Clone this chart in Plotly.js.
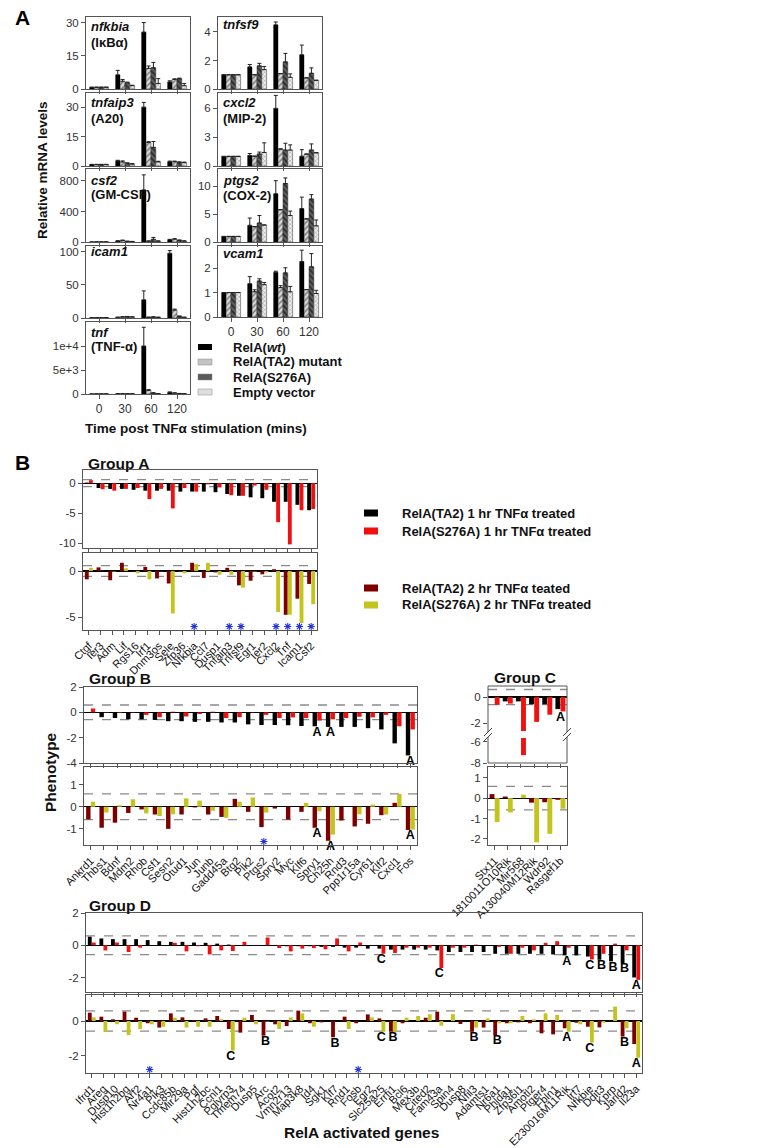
<!DOCTYPE html>
<html><head><meta charset="utf-8">
<script src="https://cdn.plot.ly/plotly-3.0.1.min.js"></script>
<style>html,body{margin:0;padding:0;background:#fff}</style>
</head><body><div id="chart" style="width:770px;height:1148px"></div>
<script>
// ================= DATA: Panel A =================
const timePoints = ['0','30','60','120'];
const seriesA = ['RelA(<i>wt</i>)','RelA(TA2) mutant','RelA(S276A)','Empty vector'];
// rows = series [wt, TA2, S276A, EV]; columns = time points
const nfkbiaVals = [[0.8,6.4,25.7,3.2],[0.8,3.5,9.3,4.3],[0.8,2.8,9.6,4.6],[0.8,1.5,2.5,1.5]];
const nfkbiaErr  = [[0,2.0,4.3,0.5],[0,0.8,1.1,0.3],[0,0.3,2.4,0.3],[0,0.2,2.2,1.0]];
const tnfaip3Vals = [[0.8,2.6,30,2.2],[0.8,2.1,12,2.2],[0.8,1.4,9.5,1.9],[0.8,1.0,2.1,1.7]];
const tnfaip3Err  = [[0,0.3,2.4,0.3],[0,0.5,0.4,0.3],[0,0.2,3.0,0.2],[0,0.2,0.3,0.3]];
const csf2Vals = [[1,13,683,30],[1,20,10,38],[1,8,35,22],[1,6,10,12]];
const csf2Err  = [[0,4,197,5],[0,5,5,5],[0,3,25,4],[0,2,5,3]];
const icam1Vals = [[0.5,1,27.5,98],[0.5,1.5,1,12],[0.5,2,1.5,2.5],[0.5,1.5,1,1]];
const icam1Err  = [[0,0.3,13.5,4],[0,0.5,0.3,1.5],[0,0.4,0.3,0.5],[0,0.3,0.2,0.2]];
const tnfVals = [[20,50,10000,350],[20,40,760,200],[20,40,200,100],[20,30,70,60]];
const tnfErr  = [[0,20,3900,80],[0,10,150,40],[0,10,50,20],[0,0,0,0]];
const tnfsf9Vals = [[1,1.55,4.5,2.4],[1,1.0,1.08,0.78],[1,1.62,1.9,1.1],[1,1.36,0.82,0.61]];
const tnfsf9Err  = [[0,0.17,0.2,0.68],[0,0,0,0],[0,0.18,0.6,0.38],[0,0.22,0.24,0]];
const cxcl2Vals = [[1,1.1,6.0,1.02],[1,1.02,1.77,1.24],[1,1.24,1.66,1.66],[1,1.41,1.66,1.38]];
const cxcl2Err  = [[0,0.2,1.35,0.68],[0,0,0,0],[0,0.21,0.71,0.64],[0,1.0,0.54,0]];
const ptgs2Vals = [[1,3.0,8.66,6.0],[1,2.75,5.8,4.15],[1,3.4,10.5,7.7],[1,3.05,4.75,2.9]];
const ptgs2Err  = [[0,1.3,2.34,2.05],[0,0,0,0],[0,1.35,1.0,0.8],[0,0,0.8,1.05]];
const vcam1Vals = [[1,1.36,1.83,2.27],[1,1.03,1.2,1.12],[1,1.47,1.8,2.05],[1,1.32,1.03,0.96]];
const vcam1Err  = [[0,0.29,0.04,0.46],[0,0.08,0.08,0],[0,0.09,0.21,0.54],[0,0.09,0.22,0.13]];

// ================= DATA: Panel B =================
const seriesB = ['RelA(TA2) 1 hr TNFα treated','RelA(S276A) 1 hr TNFα treated','RelA(TA2) 2 hr TNFα teated','RelA(S276A) 2 hr TNFα treated'];

const groupAGenes = ['Ctgf','Ier3','Adm','Lif','Rgs16','Irf1','Dnm3os','Sele','Zfp36','Nfkbia','Ccl7','Dusp1','Tnfaip3','Tnfsf9','Egr1','Ier2','Cxcl2','Tnf','Icam1','Csf2'];
const groupA_TA2_1h   = [0.1,-0.8,-0.95,-0.95,-1.1,-1.25,-1.25,-1.25,-1.4,-1.4,-1.4,-1.5,-1.8,-2.1,-2.35,-2.5,-3.1,-3.1,-3.6,-4.5];
const groupA_S276A_1h = [0.5,-1.0,-1.25,-0.95,-0.8,-2.65,-0.95,-4.2,-0.8,-1.4,-0.2,-0.7,-2.0,-2.1,-0.4,-1.1,-6.5,-10.2,-4.5,-4.3];
const groupA_TA2_2h   = [-0.9,0.4,-1.0,0.9,-0.05,0.45,-0.8,-1.35,-0.1,0.9,-0.75,-0.15,0.35,-1.55,-1.05,-0.35,0.2,-4.75,-3.0,-1.4];
const groupA_S276A_2h = [0.35,0.02,-0.05,0.3,-0.25,-0.9,-0.02,-4.6,-0.25,0.75,0.9,-0.4,-0.4,-1.8,-0.05,-0.15,-4.45,-4.75,-5.65,-3.6];
const groupAStars     = [0,0,0,0,0,0,0,0,0,1,0,0,1,1,0,0,1,1,1,1];

const groupBGenes = ['Ankrd1','Thbs1','Bdnf','Mdm2','Rhob','Csf1','Sesn2','Otud1','Jun','Junb','Gadd45a','Btg2','Plk2','Ptgs2','Spry2','Myc','Klf6','Spry1','Ch25h','Rnd3','Ppp1r15a','Cyr61','Klf2','Cxcl1','Fos'];
const groupB_TA2_1h   = [-0.02,-0.38,-0.45,-0.55,-0.55,-0.6,-0.7,-0.7,-0.75,-0.75,-0.8,-0.8,-0.95,-1.0,-1.0,-1.02,-1.08,-1.1,-1.15,-1.15,-1.15,-1.25,-1.35,-2.45,-3.4];
const groupB_S276A_1h = [0.3,-0.03,-0.05,-0.03,-0.2,-0.38,0.05,-0.33,-0.13,0.05,-0.45,-0.38,-0.02,-0.2,-0.45,-0.4,-0.45,-0.65,-0.55,-0.45,-0.35,-0.4,-0.2,-1.1,-1.35];
const groupB_TA2_2h   = [-0.57,-0.95,-0.72,-0.28,-0.12,-0.35,-1.0,-0.35,-0.03,-0.35,-0.46,0.36,-0.23,-0.92,-0.08,-0.58,-0.23,-0.95,-1.54,-0.62,-0.89,-0.77,-0.38,0.18,-1.05];
const groupB_S276A_2h = [0.23,-0.26,0.07,0.34,-0.3,-0.42,-0.34,0.38,0.28,-0.18,-0.5,0.23,0.42,-0.26,0.0,0.0,0.18,-0.2,-1.26,0.0,-0.34,0.1,-0.35,0.58,-1.03];
const groupBTopLetters = ['','','','','','','','','','','','','','','','','','A','A','','','','','','A'];
const groupBBotLetters = ['','','','','','','','','','','','','','','','','','A','A','','','','','','A'];
const groupBStars      = [0,0,0,0,0,0,0,0,0,0,0,0,0,1,0,0,0,0,0,0,0,0,0,0,0];

const groupCGenes = ['Stx11','1810011O10Rik','Mir568','A130040M12Rik','Wdr92','Rasgef1b'];
const groupC_TA2_1h   = [-0.02,-0.33,-0.33,-0.55,-0.55,-0.92];
const groupC_S276A_1h = [-0.6,-0.5,-7.25,-1.9,-1.35,-1.1];
const groupC_TA2_2h   = [0.2,0.08,0.0,-0.22,-0.2,-0.08];
const groupC_S276A_2h = [-1.17,-0.7,0.17,-2.17,-1.75,-0.52];
const groupCTopLetters = ['','','','','','A'];

const groupDGenes = ['Ifrd1','Areg','Dusp10','Hist1h2bg','Arf2','Nr4a1','Pik3','Ccdc85b','Mir29a','Pgf','Hist1h2bc','Ccnl1','Pglyrp3','Tmem74','Dusp5','Arc','Acot2','Vmn2r13','Map3k8','Id4','Sgk1','Klf7','Rnd1','Fosb','Egr2','Slc25a25','Errfi1','Bcl6','Mex3b','Cited2','Fam43a','Spin4','Dusp8','Nfil3','Adamts1','Nr6a1','Phlda1','Zfp36l1','Amotl2','Ptger4','Fbln1','E230016M11Rik','Irf7','Nfkbie','Ddit3','Kprp','Jarid2','Il23a'];
const groupD_TA2_1h   = [0.53,0.42,0.38,0.38,0.38,0.32,0.25,0.21,0.21,0.17,0.15,0.1,0.04,0.01,-0.02,-0.02,-0.03,-0.06,-0.06,-0.06,-0.1,-0.1,-0.15,-0.15,-0.21,-0.21,-0.27,-0.27,-0.27,-0.27,-0.32,-0.42,-0.42,-0.42,-0.42,-0.53,-0.53,-0.53,-0.53,-0.53,-0.57,-0.63,-0.63,-0.7,-0.9,-1.0,-1.1,-2.0];
const groupD_S276A_1h = [0.17,-0.32,0.17,-0.42,-0.15,0.0,0.0,0.15,-0.38,-0.06,-0.57,-0.32,-0.36,0.21,-0.02,0.48,-0.17,-0.38,-0.21,-0.17,-0.25,0.42,-0.38,0.17,0.0,-0.53,-0.48,-0.15,-0.15,-0.15,-1.41,-0.15,-0.15,0.04,0.0,-0.1,-0.53,-0.15,-0.32,0.15,0.25,-0.15,0.0,-0.88,-0.53,0.1,-0.32,-2.15];
const groupD_TA2_2h   = [0.48,0.25,0.1,0.54,0.19,-0.13,-0.38,0.44,0.21,0.06,0.15,0.29,-0.46,-0.67,0.35,-0.85,-0.19,-0.29,0.6,-0.13,-0.08,-0.94,0.25,-0.13,0.38,0.15,-0.62,-0.13,0.0,0.19,0.54,0.0,-0.17,-0.62,-0.38,-0.81,-0.13,-0.08,-0.13,-0.71,-0.77,-0.42,-0.1,-0.33,-0.37,-0.02,-0.9,-1.33];
const groupD_S276A_2h = [0.21,-0.62,-0.19,-0.81,-0.46,-0.19,-0.33,0.19,-0.38,-0.33,-0.33,0.1,-1.71,0.19,-0.19,-0.03,-0.46,0.21,0.44,-0.33,0.0,0.0,-0.46,0.0,0.21,-0.62,-0.62,0.19,0.29,0.38,-0.27,0.4,0.0,-0.38,0.15,-0.13,-0.13,0.29,0.1,0.44,0.35,-0.62,-0.19,-1.25,-0.1,0.83,-0.42,-2.12];
const groupDTopLetters = ['','','','','','','','','','','','','','','','','','','','','','','','','','C','','','','','C','','','','','','','','','','','A','','C','B','B','B','A'];
const groupDBotLetters = ['','','','','','','','','','','','','C','','','B','','','','','','B','','','','C','B','','','','','','','B','','B','','','','','','A','','C','','','B','A'];
const groupDStars      = [0,0,0,0,0,1,0,0,0,0,0,0,0,0,0,0,0,0,0,0,0,0,0,1,0,0,0,0,0,0,0,0,0,0,0,0,0,0,0,0,0,0,0,0,0,0,0,0];

// ================= LAYOUT HELPERS =================
const W = 770, H = 1148;
const FONT = 'Liberation Sans, Arial, sans-serif';
const px = x => x / W;
const py = y => 1 - y / H;
const layout = {
  width: W, height: H, margin: {l:0, r:0, t:0, b:0},
  paper_bgcolor: '#fff', plot_bgcolor: 'rgba(0,0,0,0)', showlegend: false,
  font: {family: FONT, color: '#222'}, annotations: [], shapes: [], hovermode: false
};
const data = [];
const axisBase = {
  showline: true, mirror: true, linecolor: '#555', linewidth: 1,
  ticks: 'outside', ticklen: 4, tickcolor: '#555', tickwidth: 1,
  tickfont: {family: FONT, size: 11.5, color: '#333'},
  showgrid: false, zeroline: false, fixedrange: true
};
let axN = 0;
function newAxes(box, xopt, yopt) {
  axN++;
  const s = axN === 1 ? '' : String(axN);
  const [l, t, r, b] = box;
  layout['xaxis' + s] = Object.assign({}, axisBase, {domain: [px(l), px(r)], anchor: 'y' + s}, xopt);
  layout['yaxis' + s] = Object.assign({}, axisBase, {domain: [py(b), py(t)], anchor: 'x' + s}, yopt);
  return {x: 'x' + s, y: 'y' + s};
}
function ann(text, x, y, opt) {
  layout.annotations.push(Object.assign({text, x: px(x), y: py(y), xref: 'paper', yref: 'paper',
    showarrow: false, xanchor: 'left', yanchor: 'middle', font: {family: FONT, size: 13, color: '#111'}}, opt || {}));
}
function line(x0, y0, x1, y1, opt) {
  layout.shapes.push(Object.assign({type: 'line', xref: 'paper', yref: 'paper', x0: px(x0), y0: py(y0), x1: px(x1), y1: py(y1),
    line: {color: '#555', width: 1}}, opt || {}));
}

// ================= PANEL A =================
const aColors = [
  {color: '#000'},
  {color: '#cfcfcf', pattern: {shape: '/', bgcolor: '#d8d8d8', fgcolor: '#777', size: 4, solidity: 0.35}},
  {color: '#555', pattern: {shape: '\\', bgcolor: '#5e5e5e', fgcolor: '#2a2a2a', size: 4, solidity: 0.4}},
  {color: '#e8e8e8', pattern: {shape: 'x', bgcolor: '#eeeeee', fgcolor: '#9a9a9a', size: 3, solidity: 0.3}}
];
const panelA = [
  {box:[86,17,190,89],  v:nfkbiaVals,  e:nfkbiaErr,  r:[0,32.5], tv:[0,15,30], tt:['0','15','30'], lab:['<b><i>nfkbia</i></b>','<b>(IκBα)</b>'], ly:[26,43], xl:false},
  {box:[86,93,190,166], v:tnfaip3Vals, e:tnfaip3Err, r:[0,37.2], tv:[0,15,30], tt:['0','15','30'], lab:['<b><i>tnfaip3</i></b>','<b>(A20)</b>'], ly:[103,119], xl:false},
  {box:[86,169,190,242],v:csf2Vals,    e:csf2Err,    r:[0,957],  tv:[0,400,800], tt:['0','400','800'], lab:['<b><i>csf2</i></b>','<b>(GM-CSF)</b>'], ly:[181,194], xl:false},
  {box:[86,246,190,318],v:icam1Vals,   e:icam1Err,   r:[0,109],  tv:[0,50,100], tt:['0','50','100'], lab:['<b><i>icam1</i></b>'], ly:[252], xl:false},
  {box:[86,322,190,394],v:tnfVals,     e:tnfErr,     r:[0,15000],tv:[0,5000,10000], tt:['0','5e+3','1e+4'], lab:['<b><i>tnf</i></b>','<b>(TNF-α)</b>'], ly:[332,346], xl:true},
  {box:[218,17,322,89], v:tnfsf9Vals,  e:tnfsf9Err,  r:[0,5.05], tv:[0,2,4], tt:['0','2','4'], lab:['<b><i>tnfsf9</i></b>'], ly:[24], xl:false},
  {box:[218,93,322,166],v:cxcl2Vals,   e:cxcl2Err,   r:[0,7.6],  tv:[0,3,6], tt:['0','3','6'], lab:['<b><i>cxcl2</i></b>','<b>(MIP-2)</b>'], ly:[103,118], xl:false},
  {box:[218,169,322,242],v:ptgs2Vals,  e:ptgs2Err,   r:[0,13.1], tv:[0,5,10], tt:['0','5','10'], lab:['<b><i>ptgs2</i></b>','<b>(COX-2)</b>'], ly:[181,195], xl:false},
  {box:[218,246,322,317],v:vcam1Vals,  e:vcam1Err,   r:[0,2.9],  tv:[0,1,2], tt:['0','1','2'], lab:['<b><i>vcam1</i></b>'], ly:[254], xl:true}
];
const bwA = 0.185;
panelA.forEach(p => {
  const ax = newAxes(p.box,
    {type:'category', categoryarray: timePoints, categoryorder:'array', range:[-0.5,3.5], showticklabels: p.xl,
     tickmode:'array', tickvals: timePoints, ticktext: timePoints, tickfont:{family:FONT, size:12, color:'#333'}},
    {range: p.r, tickvals: p.tv, ticktext: p.tt});
  for (let s = 0; s < 4; s++) {
    data.push({type:'bar', x: timePoints, y: p.v[s], xaxis: ax.x, yaxis: ax.y, width: bwA, offset: -2*bwA + s*bwA,
      marker: Object.assign({line:{color:'#333', width: s===0?0:0.5}}, aColors[s]), hoverinfo:'skip', name: seriesA[s],
      error_y: {type:'data', symmetric:false, array: p.e[s], arrayminus: p.e[s].map(()=>0), color:'#222', thickness:1, width:2}});
  }
  p.lab.forEach((t, i) => ann(t, p.box[0] + 3, p.ly[i], {font:{family:FONT, size:13, color:'#111'}}));
});
// Panel A legend (swatches + text)
const aLegFill = ['#000', '#c4c4c4', '#5a5a5a', '#dedede'];
[347, 362, 377, 392].forEach((y, i) => {
  layout.shapes.push({type:'rect', xref:'paper', yref:'paper', x0:px(198), x1:px(212), y0:py(y+3), y1:py(y-3),
    fillcolor: aLegFill[i], line:{color:'#888', width: i===0?0:0.5}});
  ann('<b>' + seriesA[i] + '</b>', 231, y, {font:{family:FONT, size:13, color:'#111'}});
});
ann('<b>Relative mRNA levels</b>', 42, 170, {textangle:-90, xanchor:'center', font:{family:FONT, size:13.5, color:'#111'}});
ann('<b>Time post TNFα stimulation (mins)</b>', 196, 428, {xanchor:'center', font:{family:FONT, size:13.5, color:'#111'}});
ann('<b>A</b>', 22, 17, {xanchor:'center', font:{family:FONT, size:21, color:'#000'}});
ann('<b>B</b>', 22, 462, {xanchor:'center', font:{family:FONT, size:21, color:'#000'}});

// ================= PANEL B =================
const C1 = '#000', C2 = '#f01010', C3 = '#7d0000', C4 = '#c3c51d';
function dashed(ax) {
  [0.58, -0.58].forEach(v => layout.shapes.push({type:'line', xref: ax.x + ' domain', yref: ax.y, x0:0, x1:1, y0:v, y1:v,
    line:{color:'#8a8a8a', width:1.3, dash:'dash'}, layer:'below'}));
}
function barPanel(box, genes, s1, s2, c1, c2, yr, tv, showLabels, w, extra) {
  const ax = newAxes(box,
    Object.assign({type:'category', categoryarray: genes, categoryorder:'array', range:[-0.5, genes.length-0.5],
      tickmode:'array', tickvals: genes, ticktext: genes,
      showticklabels: showLabels, tickangle: -45, tickfont:{family:FONT, size:11, color:'#111'}}, (extra||{}).x || {}),
    Object.assign({range: yr, tickvals: tv, ticktext: tv.map(String), zeroline: true, zerolinecolor:'#000', zerolinewidth:1.2,
      tickfont:{family:FONT, size:11.5, color:'#333'}}, (extra||{}).y || {}));
  data.push({type:'bar', x: genes, y: s1, xaxis: ax.x, yaxis: ax.y, width: w, offset: -w - 0.01, marker:{color: c1}, hoverinfo:'skip'});
  data.push({type:'bar', x: genes, y: s2, xaxis: ax.x, yaxis: ax.y, width: w, offset: 0.01, marker:{color: c2}, hoverinfo:'skip'});
  return ax;
}
function letters(ax, genes, s1, s2, labs) {
  const xs = [], ys = [], ts = [];
  labs.forEach((l, i) => { if (l) { xs.push(genes[i]); ys.push(Math.min(s1[i], s2[i], 0)); ts.push('<b>' + l + '</b>'); } });
  data.push({type:'scatter', mode:'text', x: xs, y: ys, text: ts, textposition:'bottom center',
    textfont:{family:FONT, size:12.5, color:'#000'}, xaxis: ax.x, yaxis: ax.y, cliponaxis:false, hoverinfo:'skip'});
}
function stars(ax, genes, flags, yr) {
  const xs = genes.filter((g, i) => flags[i]);
  const y0 = yr[0] + 0.045 * (yr[1] - yr[0]);
  data.push({type:'scatter', mode:'markers', x: xs, y: xs.map(() => y0), xaxis: ax.x, yaxis: ax.y, cliponaxis:false, hoverinfo:'skip',
    marker:{symbol:'asterisk-open', size:6, color:'#2233dd', line:{color:'#2233dd', width:1.1}}});
}

// Group A
const gaTopR = [-10.8, 2.2], gaBotR = [-6.4, 1.96];
const gaTop = barPanel([83,470,317,548], groupAGenes, groupA_TA2_1h, groupA_S276A_1h, C1, C2, gaTopR, [0,-5,-10], false, 0.33);
dashed(gaTop);
const gaBot = barPanel([83,553,317,630], groupAGenes, groupA_TA2_2h, groupA_S276A_2h, C3, C4, gaBotR, [0,-5], true, 0.33);
dashed(gaBot);
stars(gaBot, groupAGenes, groupAStars, gaBotR);
ann('<b>Group A</b>', 86, 463, {font:{family:FONT, size:15.5, color:'#111'}});

// Group B
const gbTopR = [-4, 2], gbBotR = [-1.73, 1.8];
const gbTop = barPanel([84,687,417,763], groupBGenes, groupB_TA2_1h, groupB_S276A_1h, C1, C2, gbTopR, [2,0,-2,-4], false, 0.33);
dashed(gbTop);
letters(gbTop, groupBGenes, groupB_TA2_1h, groupB_S276A_1h, groupBTopLetters);
const gbBot = barPanel([84,767,417,845], groupBGenes, groupB_TA2_2h, groupB_S276A_2h, C3, C4, gbBotR, [1,0,-1], true, 0.33);
dashed(gbBot);
letters(gbBot, groupBGenes, groupB_TA2_2h, groupB_S276A_2h, groupBBotLetters);
stars(gbBot, groupBGenes, groupBStars, gbBotR);
ann('<b>Group B</b>', 87, 678, {font:{family:FONT, size:15.5, color:'#111'}});

// Group C (broken axis on top panel)
const gcU = barPanel([488,686,567,731], groupCGenes, groupC_TA2_1h, groupC_S276A_1h, C1, C2, [-2.6, 0.85], [0,-2], false, 0.37,
  {x:{showline:false, ticks:''}, y:{showline:false}});
dashed(gcU);
letters(gcU, groupCGenes, groupC_TA2_1h, groupC_S276A_1h, groupCTopLetters);
const gcL = barPanel([488,738,567,763], groupCGenes, groupC_TA2_1h, groupC_S276A_1h, C1, C2, [-8, -5.62], [-6,-8], false, 0.37,
  {x:{showline:false}, y:{showline:false}});
// box outline with axis break
line(488,686,567,686); line(488,763,567,763);
line(488,686,488,732); line(488,737,488,763);
line(567,686,567,732); line(567,737,567,763);
[[484,736,492,728],[484,741,492,733],[563,736,571,728],[563,741,571,733]].forEach(s => line(s[0],s[1],s[2],s[3], {line:{color:'#444', width:1}}));
const gcBotR = [-2.3, 1.53];
const gcBot = barPanel([488,767,567,845], groupCGenes, groupC_TA2_2h, groupC_S276A_2h, C3, C4, gcBotR, [1,0,-1,-2], true, 0.37);
dashed(gcBot);
ann('<b>Group C</b>', 492, 677, {font:{family:FONT, size:15.5, color:'#111'}});

// Group D
const gdTopR = [-2.9, 2.0], gdBotR = [-3.0, 1.5];
const gdTop = barPanel([86,913,642,992], groupDGenes, groupD_TA2_1h, groupD_S276A_1h, C1, C2, gdTopR, [2,0,-2], false, 0.33);
dashed(gdTop);
letters(gdTop, groupDGenes, groupD_TA2_1h, groupD_S276A_1h, groupDTopLetters);
const gdBot = barPanel([86,995,642,1073], groupDGenes, groupD_TA2_2h, groupD_S276A_2h, C3, C4, gdBotR, [0,-2], true, 0.33);
dashed(gdBot);
letters(gdBot, groupDGenes, groupD_TA2_2h, groupD_S276A_2h, groupDBotLetters);
stars(gdBot, groupDGenes, groupDStars, gdBotR);
ann('<b>Group D</b>', 87, 905, {font:{family:FONT, size:15.5, color:'#111'}});

// Panel B legend
const bLegFill = [C1, C2, C3, C4];
[513, 531, 588, 605].forEach((y, i) => {
  layout.shapes.push({type:'rect', xref:'paper', yref:'paper', x0:px(364), x1:px(378), y0:py(y+3.5), y1:py(y-3.5),
    fillcolor: bLegFill[i], line:{width:0}});
  ann('<b>' + seriesB[i] + '</b>', 400, y, {font:{family:FONT, size:13, color:'#111'}});
});
ann('<b>Phenotype</b>', 50, 772, {textangle:-90, xanchor:'center', font:{family:FONT, size:15.5, color:'#111'}});
ann('<b>RelA activated genes</b>', 361, 1132, {xanchor:'center', font:{family:FONT, size:15.5, color:'#111'}});

Plotly.newPlot('chart', data, layout, {staticPlot: true, displayModeBar: false});
</script></body></html>
